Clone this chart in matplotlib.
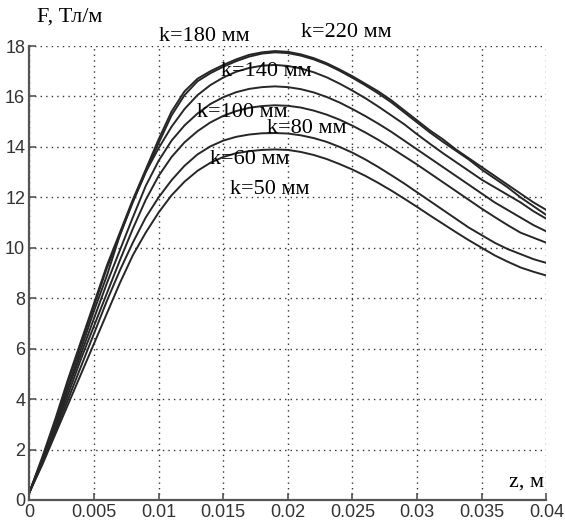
import matplotlib
matplotlib.use("Agg")
import matplotlib.pyplot as plt
import numpy as np

# z, m (step 0.001)
z = np.arange(41) / 1000.0

F_220 = [0.3, 1.7, 3.2, 4.8, 6.3, 7.8, 9.3, 10.6, 11.9, 13.1, 14.3, 15.4, 16.2, 16.7, 17.0,
         17.25, 17.47, 17.65, 17.75, 17.8, 17.77, 17.67, 17.52, 17.32, 17.07, 16.8, 16.5, 16.2,
         15.85, 15.45, 15.05, 14.65, 14.3, 13.9, 13.55, 13.2, 12.85, 12.5, 12.15, 11.8, 11.5]
F_180 = [0.3, 1.65, 3.1, 4.7, 6.2, 7.7, 9.2, 10.5, 11.8, 13.0, 14.15, 15.25, 16.05, 16.6, 16.92,
         17.18, 17.4, 17.58, 17.7, 17.75, 17.72, 17.62, 17.47, 17.27, 17.02, 16.74, 16.44, 16.12,
         15.77, 15.37, 14.97, 14.57, 14.2, 13.85, 13.5, 13.1, 12.75, 12.4, 12.0, 11.65, 11.3]
F_140 = [0.3, 1.6, 3.0, 4.5, 6.0, 7.5, 8.9, 10.5, 11.85, 13.0, 13.95, 14.8, 15.5, 16.05, 16.45,
         16.75, 16.98, 17.13, 17.22, 17.25, 17.21, 17.11, 16.96, 16.76, 16.51, 16.23, 15.93, 15.6,
         15.25, 14.9, 14.5, 14.12, 13.75, 13.4, 13.05, 12.7, 12.4, 12.1, 11.8, 11.45, 11.15]
F_100 = [0.3, 1.55, 2.9, 4.4, 5.8, 7.2, 8.6, 9.9, 11.2, 12.45, 13.45, 14.25, 14.85, 15.32, 15.7,
         15.97, 16.17, 16.3, 16.37, 16.4, 16.37, 16.29, 16.16, 15.98, 15.76, 15.5, 15.22, 14.92,
         14.6, 14.25, 13.9, 13.55, 13.2, 12.85, 12.5, 12.15, 11.8, 11.5, 11.2, 10.9, 10.65]
F_80 = [0.3, 1.5, 2.8, 4.2, 5.6, 6.9, 8.2, 9.5, 10.75, 11.9, 12.85, 13.6, 14.18, 14.62, 14.97,
        15.23, 15.42, 15.55, 15.62, 15.65, 15.63, 15.56, 15.44, 15.28, 15.08, 14.84, 14.57, 14.28,
        13.96, 13.63, 13.3, 12.95, 12.6, 12.25, 11.9, 11.55, 11.22, 10.9, 10.6, 10.4, 10.2]
F_60 = [0.3, 1.45, 2.7, 4.0, 5.3, 6.6, 7.9, 9.1, 10.2, 11.2, 12.0, 12.68, 13.25, 13.7, 14.02,
        14.25, 14.4, 14.49, 14.54, 14.55, 14.53, 14.46, 14.35, 14.2, 14.0, 13.77, 13.5, 13.2,
        12.88, 12.55, 12.2, 11.85, 11.5, 11.15, 10.8, 10.5, 10.2, 9.95, 9.75, 9.55, 9.4]
F_50 = [0.3, 1.4, 2.6, 3.8, 5.0, 6.2, 7.4, 8.6, 9.7, 10.6, 11.4, 12.08, 12.62, 13.05, 13.37,
        13.6, 13.75, 13.83, 13.88, 13.9, 13.88, 13.8, 13.68, 13.52, 13.32, 13.1, 12.85, 12.57,
        12.27, 11.95, 11.62, 11.28, 10.95, 10.62, 10.3, 10.0, 9.7, 9.45, 9.22, 9.05, 8.9]

curves = [F_220, F_180, F_140, F_100, F_80, F_60, F_50]

# labels and their anchor points (z, F)
labels = ["k=180 мм", "k=220 мм", "k=140 мм", "k=100 мм", "k=80 мм", "k=60 мм", "k=50 мм"]
label_z = [0.0100, 0.0210, 0.0148, 0.0130, 0.0184, 0.0140, 0.0155]
label_F = [18.37, 18.53, 16.98, 15.36, 14.72, 13.49, 12.3]

xticks = [0, 0.005, 0.01, 0.015, 0.02, 0.025, 0.03, 0.035, 0.04]
xticklabels = ["0", "0.005", "0.01", "0.015", "0.02", "0.025", "0.03", "0.035", "0.04"]
yticks = [0, 2, 4, 6, 8, 10, 12, 14, 16, 18]

serif = ["Liberation Serif", "DejaVu Serif"]
narrow = ["Liberation Sans Narrow", "Liberation Sans", "DejaVu Sans"]

fig = plt.figure(figsize=(5.65, 5.23), dpi=100)
ax = fig.add_axes([0.052, 0.044, 0.915, 0.868])

for F in curves:
    ax.plot(z, F, color="#262626", linewidth=1.4)

for txt, lz, lf in zip(labels, label_z, label_F):
    ax.text(lz, lf, txt, family=serif, fontsize=16, ha="left", va="center")

ax.set_xlim(0, 0.04)
ax.set_ylim(0, 18)
ax.set_xticks(xticks)
ax.set_xticklabels(xticklabels, family=narrow, fontsize=13, color="#333333")
ax.set_yticks(yticks)
ax.set_yticklabels([str(v) for v in yticks], family=narrow, fontsize=13, color="#333333")
ax.tick_params(direction="in", length=5, width=1.2, color="#555555", pad=3)

ax.grid(True, color="#333333", linestyle=(0, (1, 3)), linewidth=1.0)
for s in ["top", "right"]:
    ax.spines[s].set_visible(False)
for s in ["left", "bottom"]:
    ax.spines[s].set_color("#555555")
    ax.spines[s].set_linewidth(1.6)

fig.text(0.065, 0.967, "F, Тл/м", family=serif, fontsize=16, ha="left", va="center")
ax.text(0.0398, 0.55, "z, м", family=serif, fontsize=16, ha="right", va="baseline")

fig.savefig("out.png", dpi=100)
